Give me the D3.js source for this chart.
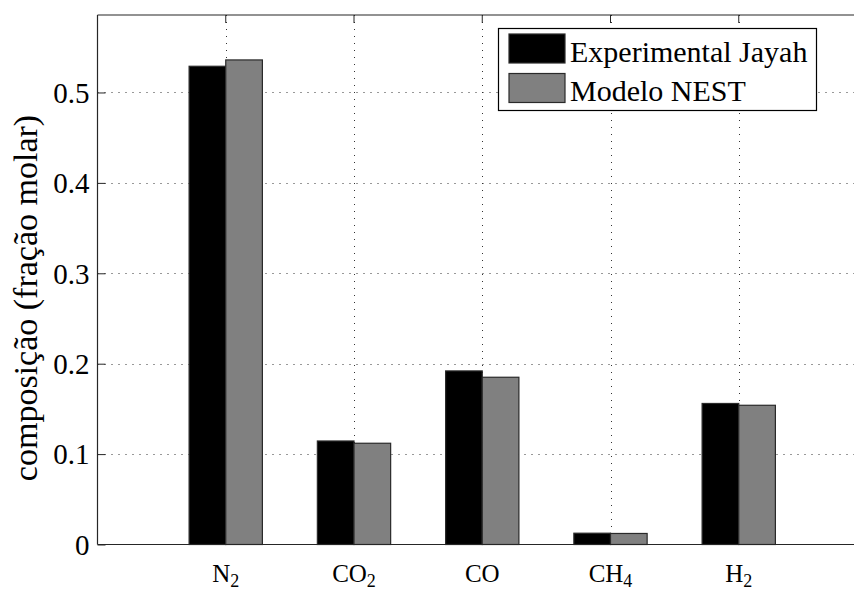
<!DOCTYPE html>
<html>
<head>
<meta charset="utf-8">
<script src="https://cdn.jsdelivr.net/npm/d3@7"></script>
<style>
  html, body { margin: 0; padding: 0; background: #fff; }
  svg { display: block; }
</style>
</head>
<body>
<svg id="chart" width="854" height="591"></svg>
<script>
// ---- data ----
const categories = ["N", "CO", "CO", "CH", "H"];
const subscripts = ["2", "2", "", "4", "2"];
const seriesNames = ["Experimental Jayah", "Modelo NEST"];
const experimental = [0.529, 0.1145, 0.192, 0.0125, 0.156];
const modelo = [0.536, 0.112, 0.185, 0.0122, 0.154];
const yTicks = [0, 0.1, 0.2, 0.3, 0.4, 0.5];
const yTickLabels = ["0", "0.1", "0.2", "0.3", "0.4", "0.5"];
const seriesColors = ["#000000", "#808080"];

(function () {
const FONT = "'Liberation Serif', 'Times New Roman', Times, 'DejaVu Serif', serif";
const svg = d3.select("#chart").attr("font-family", FONT);
const pL = 97.5, pT = 15, pB = 544.5, pR = 867;

const x = d3.scaleLinear().domain([0, 6]).range([pL, pR]);
const y = d3.scaleLinear().domain([0, 0.5857]).range([pB, pT]);
const series = [experimental, modelo];
const barW = x(2 / 7) - x(0); // MATLAB grouped bar width for 2 series

// grid (behind bars)
const grid = svg.append("g").attr("stroke", "#333").attr("stroke-width", 1)
  .attr("stroke-dasharray", "1,6");
grid.selectAll("line.h").data(yTicks.filter(d => d > 0)).join("line")
  .attr("x1", pL).attr("x2", pR)
  .attr("y1", d => Math.round(y(d)) + 0.5).attr("y2", d => Math.round(y(d)) + 0.5);
grid.selectAll("line.v").data(categories.map((c, i) => i + 1)).join("line")
  .attr("x1", d => Math.round(x(d)) + 0.5).attr("x2", d => Math.round(x(d)) + 0.5)
  .attr("y1", pT).attr("y2", pB);

// bars
series.forEach((vals, s) => {
  svg.append("g").selectAll("rect").data(vals).join("rect")
    .attr("x", (d, i) => x(i + 1) - barW + s * barW)
    .attr("width", barW)
    .attr("y", d => y(d))
    .attr("height", d => y(0) - y(d))
    .attr("fill", seriesColors[s])
    .attr("stroke", "#2a2a2a")
    .attr("stroke-width", 1.2);
});

// axes box
const axisColor = "#262626";
svg.append("line").attr("x1", pL).attr("x2", pR).attr("y1", pT).attr("y2", pT)
  .attr("stroke", axisColor).attr("stroke-width", 1.2);
svg.append("line").attr("x1", pL).attr("x2", pR).attr("y1", pB).attr("y2", pB)
  .attr("stroke", axisColor).attr("stroke-width", 1.2);
svg.append("line").attr("x1", pL).attr("x2", pL).attr("y1", pT).attr("y2", pB)
  .attr("stroke", axisColor).attr("stroke-width", 1.2);

// y axis ticks + labels
const yAxis = d3.axisLeft(y).tickValues(yTicks).tickFormat((d, i) => yTickLabels[i])
  .tickSizeInner(-8).tickSizeOuter(0).tickPadding(8);
const gy = svg.append("g").attr("transform", `translate(${pL},0)`).call(yAxis)
  .attr("font-family", FONT).attr("font-size", 29);
gy.select(".domain").remove();
gy.selectAll("line").attr("stroke", axisColor);
gy.selectAll("text").attr("dy", "0.34em").attr("fill", "#000");

// top ticks
svg.append("g").selectAll("line").data(categories.map((c, i) => i + 1)).join("line")
  .attr("x1", d => x(d)).attr("x2", d => x(d)).attr("y1", pT).attr("y2", pT + 8)
  .attr("stroke", axisColor);

// x labels
const xl = svg.append("g").selectAll("text").data(categories).join("text")
  .attr("x", (d, i) => x(i + 1))
  .attr("y", 582)
  .attr("text-anchor", "middle")
  .attr("font-size", 25);
xl.append("tspan").text(d => d);
xl.append("tspan").attr("dy", 5).attr("font-size", 18).text((d, i) => subscripts[i]);

// y label
svg.append("text")
  .attr("transform", `translate(37,298) rotate(-90)`)
  .attr("text-anchor", "middle")
  .attr("font-size", 34)
  .text("composição (fração molar)");

// legend
const lg = svg.append("g");
lg.append("rect").attr("x", 498.5).attr("y", 28.5).attr("width", 318).attr("height", 82)
  .attr("fill", "#fff").attr("stroke", "#000").attr("stroke-width", 1.2);
seriesNames.forEach((name, i) => {
  lg.append("rect").attr("x", 509).attr("y", 34 + i * 39.5).attr("width", 56).attr("height", 29)
    .attr("fill", seriesColors[i]).attr("stroke", "#2a2a2a").attr("stroke-width", 1.2);
  lg.append("text").attr("x", 570).attr("y", 62 + i * 39)
    .attr("font-size", 30).text(name);
});
})();
</script>
</body>
</html>
